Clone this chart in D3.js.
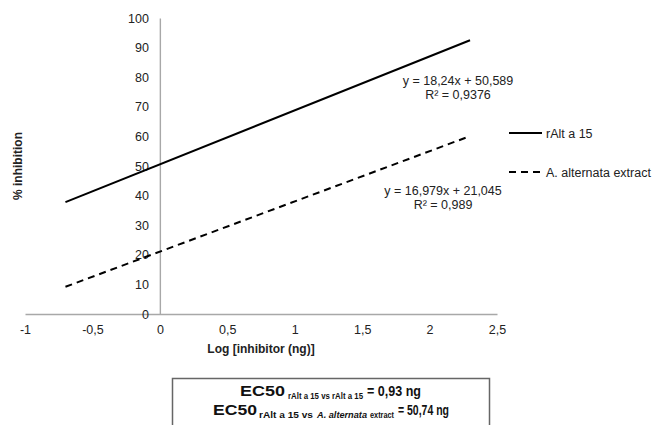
<!DOCTYPE html>
<html><head><meta charset="utf-8">
<script src="https://cdn.jsdelivr.net/npm/d3@7"></script>
<style>
body{margin:0;background:#fff;}
svg{display:block;font-family:"Liberation Sans",Arial,sans-serif;}
</style></head>
<body><svg id="c" width="655" height="425"></svg>
<script>
// ---- data ----
const xTicks = [-1, -0.5, 0, 0.5, 1, 1.5, 2, 2.5];
const yTicks = [0, 10, 20, 30, 40, 50, 60, 70, 80, 90, 100];
const seriesNames = ["rAlt a 15", "A. alternata extract"];
const lineX = [-0.7, 2.3];
const rAltY = [37.8, 92.5];
const extractY = [9.2, 60.1];
const equations = ["y = 18,24x + 50,589", "y = 16,979x + 21,045"];
const r2Labels = ["R² = 0,9376", "R² = 0,989"];

const loc = d3.formatLocale({decimal:",", thousands:".", grouping:[3], currency:["",""], minus:"-"});
const fmt = loc.format("~g");

const svg = d3.select("#c");
const x = d3.scaleLinear().domain([-1, 2.5]).range([25, 497]);
const y = d3.scaleLinear().domain([0, 100]).range([314, 18]);
const axisColor = "#a8a8a8";

// x axis
const gx = svg.append("g").attr("transform", `translate(0,${y(0)})`)
  .call(d3.axisBottom(x).tickValues(xTicks).tickSize(0).tickPadding(11).tickFormat(fmt));
gx.select(".domain").attr("stroke", axisColor).attr("stroke-width", 1.4);
gx.selectAll("text").attr("font-size", 12.5).attr("fill", "#222").attr("font-family", "Liberation Sans, Arial, sans-serif");

// y axis
const gy = svg.append("g").attr("transform", `translate(${x(0)},0)`)
  .call(d3.axisLeft(y).tickValues(yTicks).tickSize(0).tickPadding(11).tickFormat(fmt));
gy.select(".domain").attr("stroke", axisColor).attr("stroke-width", 1.4);
gy.selectAll("text").attr("font-size", 12.5).attr("fill", "#222").attr("font-family", "Liberation Sans, Arial, sans-serif");

// lines
const line = d3.line().x(d => x(d[0])).y(d => y(d[1]));
svg.append("path").datum(lineX.map((v,i)=>[v, rAltY[i]])).attr("d", line)
  .attr("fill","none").attr("stroke","#000").attr("stroke-width",2);
svg.append("path").datum(lineX.map((v,i)=>[v, extractY[i]])).attr("d", line)
  .attr("fill","none").attr("stroke","#000").attr("stroke-width",2).attr("stroke-dasharray","7,5");

// equations
const eq = [[458, 85, 99], [443, 195, 209]];
eq.forEach((p,i)=>{
  svg.append("text").attr("x",p[0]).attr("y",p[1]).attr("text-anchor","middle")
    .attr("font-size",12.5).attr("fill","#222").text(equations[i]);
  svg.append("text").attr("x",p[0]).attr("y",p[2]).attr("text-anchor","middle")
    .attr("font-size",12.5).attr("fill","#222").text(r2Labels[i]);
});

// legend
const leg = [[133, null], [172, "7,5"]];
leg.forEach((l,i)=>{
  svg.append("line").attr("x1",509).attr("x2",542).attr("y1",l[0]).attr("y2",l[0])
    .attr("stroke","#000").attr("stroke-width",2).attr("stroke-dasharray", l[1]);
  svg.append("text").attr("x",546).attr("y",l[0]+4.5).attr("font-size",12.5).attr("fill","#222").text(seriesNames[i]);
});

// axis titles
svg.append("text").attr("x",261).attr("y",353).attr("text-anchor","middle")
  .attr("font-size",12).attr("font-weight","bold").attr("fill","#222").text("Log [inhibitor (ng)]");
svg.append("text").attr("transform","translate(22,166) rotate(-90)").attr("text-anchor","middle")
  .attr("font-size",12).attr("font-weight","bold").attr("fill","#222").text("% inhibition");

// EC50 box
svg.append("rect").attr("x",172.5).attr("y",378.5).attr("width",317).attr("height",60)
  .attr("fill","none").attr("stroke","#666").attr("stroke-width",1.5);
// parts: [text, x, baseline, width, size, italic]
const parts = [
  ["EC50", 240, 396, 45, 14.5, false],
  ["rAlt a 15 vs rAlt a 15", 288, 399, 75, 9, false],
  ["= 0,93 ng", 367, 396, 54, 14.5, false],
  ["EC50", 213, 415, 44, 14.5, false],
  ["rAlt a 15 vs", 259, 418, 54, 9, false],
  ["A. alternata", 317, 418, 50, 9, true],
  ["extract", 370, 418, 24, 9, false],
  ["= 50,74 ng", 398, 415, 51, 14.5, false]
];
parts.forEach(p=>{
  svg.append("text").attr("x",p[1]).attr("y",p[2]).attr("font-size",p[4])
    .attr("font-weight","bold").attr("font-style", p[5] ? "italic" : "normal")
    .attr("fill","#111").attr("textLength",p[3]).attr("lengthAdjust","spacingAndGlyphs")
    .text(p[0]);
});
</script></body></html>
